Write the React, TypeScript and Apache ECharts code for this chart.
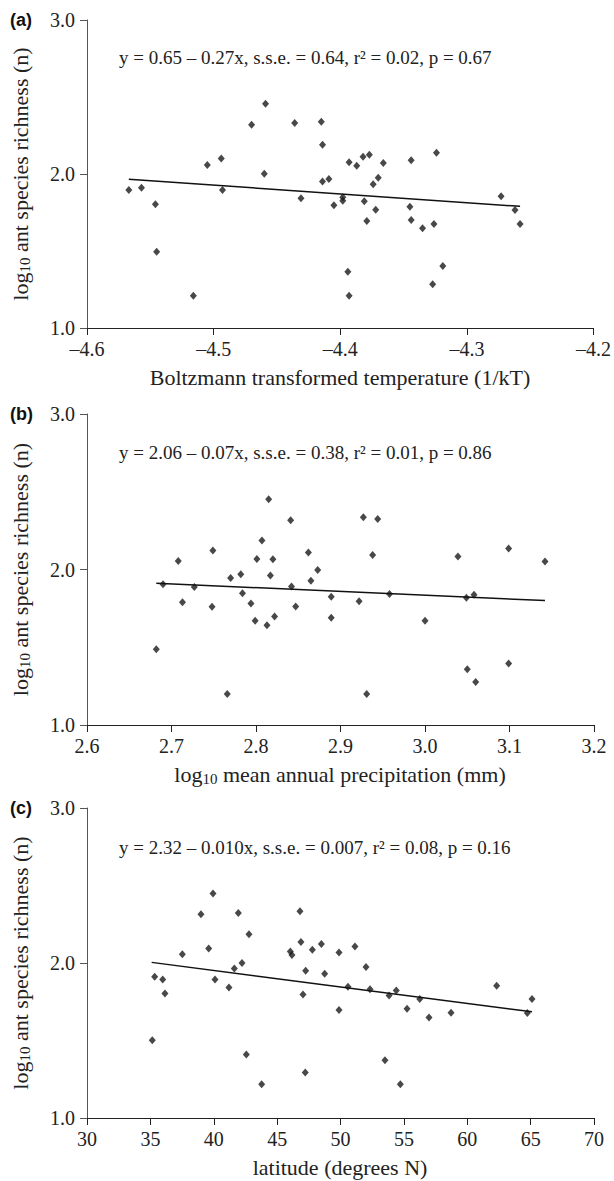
import React, { useEffect, useRef } from "react";
import * as echarts from "echarts";

// ---- Data ----
const A_X = [-4.567, -4.557, -4.546, -4.545, -4.516, -4.505, -4.494, -4.493, -4.47, -4.459, -4.46, -4.436, -4.431, -4.415, -4.414, -4.414, -4.409, -4.405, -4.398, -4.398, -4.393, -4.387, -4.382, -4.377, -4.366, -4.37, -4.374, -4.381, -4.372, -4.379, -4.394, -4.393, -4.344, -4.324, -4.345, -4.344, -4.335, -4.326, -4.319, -4.327, -4.273, -4.262, -4.258];
const A_Y = [1.896, 1.911, 1.803, 1.495, 1.21, 2.058, 2.1, 1.896, 2.32, 2.456, 2.002, 2.331, 1.842, 2.34, 2.19, 1.952, 1.968, 1.797, 1.849, 1.827, 2.076, 2.054, 2.112, 2.125, 2.071, 1.976, 1.933, 1.823, 1.768, 1.695, 1.366, 1.21, 2.089, 2.138, 1.788, 1.701, 1.647, 1.675, 1.403, 1.284, 1.855, 1.766, 1.675];
const A_FIT_X = [-4.567, -4.258];
const A_FIT_Y = [1.966, 1.79];

const B_X = [2.682, 2.69, 2.708, 2.713, 2.727, 2.749, 2.748, 2.766, 2.77, 2.782, 2.784, 2.794, 2.799, 2.801, 2.807, 2.815, 2.817, 2.82, 2.813, 2.822, 2.841, 2.842, 2.847, 2.862, 2.873, 2.865, 2.889, 2.889, 2.927, 2.944, 2.938, 2.922, 2.958, 2.931, 3.0, 3.039, 3.049, 3.058, 3.05, 3.06, 3.099, 3.099, 3.142];
const B_Y = [1.487, 1.905, 2.055, 1.79, 1.888, 2.122, 1.76, 1.2, 1.946, 1.97, 1.848, 1.781, 1.67, 2.068, 2.186, 2.452, 1.961, 2.066, 1.642, 1.698, 2.317, 1.89, 1.762, 2.109, 1.997, 1.927, 1.824, 1.689, 2.336, 2.325, 2.094, 1.796, 1.843, 1.2, 1.67, 2.083, 1.818, 1.837, 1.359, 1.277, 2.135, 1.395, 2.051];
const B_FIT_X = [2.682, 3.142];
const B_FIT_Y = [1.912, 1.8];

const C_X = [35.15, 35.34, 35.97, 36.15, 37.52, 38.99, 39.94, 39.6, 40.1, 41.2, 41.62, 41.94, 42.23, 42.78, 42.57, 43.78, 46.04, 46.17, 46.8, 46.88, 47.25, 47.04, 47.22, 47.78, 48.49, 48.75, 49.88, 49.88, 50.59, 51.14, 52.01, 52.33, 53.83, 54.4, 53.51, 54.72, 55.25, 56.25, 56.98, 58.72, 62.32, 64.74, 65.11];
const C_Y = [1.502, 1.911, 1.894, 1.804, 2.056, 2.314, 2.448, 2.094, 1.894, 1.842, 1.965, 2.323, 2.0, 2.185, 1.409, 1.218, 2.075, 2.052, 2.334, 2.136, 1.95, 1.797, 1.293, 2.086, 2.123, 1.931, 2.067, 1.696, 1.847, 2.107, 1.974, 1.83, 1.791, 1.823, 1.373, 1.218, 1.705, 1.767, 1.648, 1.679, 1.853, 1.677, 1.767];
const C_FIT_X = [35.1, 65.11];
const C_FIT_Y = [2.004, 1.685];

const PANEL_LABELS = ["(a)", "(b)", "(c)"];
const EQUATIONS = [
  "y = 0.65 – 0.27x, s.s.e. = 0.64, r² = 0.02, p = 0.67",
  "y = 2.06 – 0.07x, s.s.e. = 0.38, r² = 0.01, p = 0.86",
  "y = 2.32 – 0.010x, s.s.e. = 0.007, r² = 0.08, p = 0.16",
];
const X_TITLES = [
  "Boltzmann transformed temperature (1/kT)",
  "log{sub|10} mean annual precipitation (mm)",
  "latitude (degrees N)",
];
const Y_TITLE = "log{sub|10} ant species richness (n)";
const X_AXES = [
  { min: -4.6, max: -4.2, interval: 0.1, digits: 1 },
  { min: 2.6, max: 3.2, interval: 0.1, digits: 1 },
  { min: 30, max: 70, interval: 5, digits: 0 },
];
const Y_AXIS = { min: 1, max: 3, interval: 1 };

const SERIF = "Liberation Serif";
const SANS = "Liberation Sans";
const INK = "#1a1a1a";

export default function App() {
  const ref = useRef<HTMLDivElement>(null);
  useEffect(() => {
    if (!ref.current) return;
    const chart = echarts.init(ref.current, undefined, { renderer: "svg" });
    const grids = [
      { left: 87, top: 20, width: 507, height: 308 },
      { left: 87, top: 414, width: 507, height: 311 },
      { left: 87, top: 808, width: 507, height: 310 },
    ];
    const pts = [
      A_X.map((x, i) => [x, A_Y[i]]),
      B_X.map((x, i) => [x, B_Y[i]]),
      C_X.map((x, i) => [x, C_Y[i]]),
    ];
    const fits = [
      A_FIT_X.map((x, i) => [x, A_FIT_Y[i]]),
      B_FIT_X.map((x, i) => [x, B_FIT_Y[i]]),
      C_FIT_X.map((x, i) => [x, C_FIT_Y[i]]),
    ];
    const fmtX = (d: number) => (v: number) => {
      const s = Math.abs(v).toFixed(d);
      return (v < -1e-9 ? "–" : "") + s;
    };
    const xAxis = X_AXES.map((a, i) => ({
      type: "value",
      gridIndex: i,
      min: a.min,
      max: a.max,
      interval: a.interval,
      splitLine: { show: false },
      axisLine: { show: true, lineStyle: { color: "#222", width: 1 } },
      axisTick: { show: true, length: 7, lineStyle: { color: "#222" } },
      axisLabel: {
        formatter: fmtX(a.digits),
        fontFamily: SERIF,
        fontSize: 20,
        color: "#222",
        margin: 11,
      },
    }));
    const yAxis = [0, 1, 2].map((i) => ({
      type: "value",
      gridIndex: i,
      min: Y_AXIS.min,
      max: Y_AXIS.max,
      interval: Y_AXIS.interval,
      splitLine: { show: false },
      axisLine: { show: true, lineStyle: { color: "#555", width: 1 } },
      axisTick: { show: true, length: 7, lineStyle: { color: "#555" } },
      axisLabel: {
        formatter: (v: number) => v.toFixed(1),
        fontFamily: SERIF,
        fontSize: 20,
        color: "#222",
        margin: 12,
      },
    }));
    const series: any[] = [];
    [0, 1, 2].forEach((i) => {
      series.push({
        type: "scatter",
        xAxisIndex: i,
        yAxisIndex: i,
        data: pts[i],
        symbol: "diamond",
        symbolSize: [7, 8],
        itemStyle: { color: INK },
        silent: true,
      });
      series.push({
        type: "line",
        xAxisIndex: i,
        yAxisIndex: i,
        data: fits[i],
        showSymbol: false,
        symbol: "none",
        lineStyle: { color: "#111", width: 1.5 },
        silent: true,
      });
    });
    const graphic: any[] = [];
    grids.forEach((g, i) => {
      graphic.push({
        type: "text",
        x: 10,
        y: g.top,
        style: {
          text: PANEL_LABELS[i],
          font: `bold 18px ${SANS}`,
          fill: "#111",
          align: "left",
          verticalAlign: "middle",
        },
      });
      graphic.push({
        type: "text",
        x: 119,
        y: [57, 452, 847][i],
        style: {
          text: EQUATIONS[i],
          font: `19px ${SERIF}`,
          fill: "#222",
          align: "left",
          verticalAlign: "middle",
        },
      });
      graphic.push({
        type: "text",
        x: 340,
        y: g.top + g.height + 49,
        style: {
          text: X_TITLES[i],
          font: `22px ${SERIF}`,
          fontSize: 22,
          fontFamily: SERIF,
          lineHeight: 24,
          fill: "#222",
          align: "center",
          verticalAlign: "middle",
          rich: {
            sub: { fontSize: 15, fontFamily: SERIF, lineHeight: 12, verticalAlign: "bottom", fill: "#222" },
          },
        },
      });
      graphic.push({
        type: "text",
        x: 20,
        y: g.top + g.height / 2,
        rotation: Math.PI / 2,
        style: {
          text: Y_TITLE,
          font: `22px ${SERIF}`,
          fontSize: 22,
          fontFamily: SERIF,
          lineHeight: 24,
          fill: "#222",
          align: "center",
          verticalAlign: "middle",
          rich: {
            sub: { fontSize: 15, fontFamily: SERIF, lineHeight: 12, verticalAlign: "bottom", fill: "#222" },
          },
        },
      });
    });
    chart.setOption({
      animation: false,
      backgroundColor: "#fff",
      grid: grids,
      xAxis,
      yAxis,
      series,
      graphic,
    });
    return () => chart.dispose();
  }, []);
  return (
    <div
      ref={ref}
      style={{ position: "absolute", left: 0, top: 0, width: 614, height: 1181, background: "#fff" }}
    />
  );
}
